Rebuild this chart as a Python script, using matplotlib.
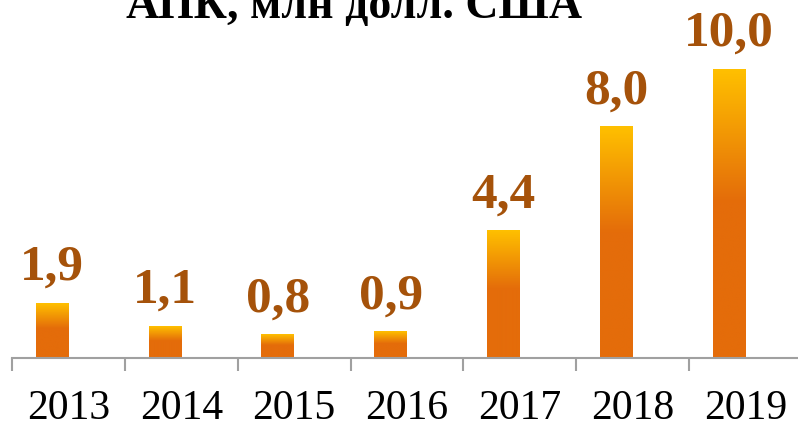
import matplotlib
matplotlib.use("Agg")
import matplotlib.pyplot as plt
import numpy as np
from matplotlib.colors import LinearSegmentedColormap

years = ["2013", "2014", "2015", "2016", "2017", "2018", "2019"]
values = [1.9, 1.1, 0.8, 0.9, 4.4, 8.0, 10.0]
labels = ["1,9", "1,1", "0,8", "0,9", "4,4", "8,0", "10,0"]
title = "АПК, млн долл. США"

W, H = 798, 425
fig = plt.figure(figsize=(W / 100, H / 100), dpi=100)
ax = fig.add_axes([12 / W, 1 - 358 / H, 790 / W, 358 / H])
ax.set_xlim(-0.5, 6.5)
ax.set_ylim(0, 358 / 28.9)

cmap = LinearSegmentedColormap.from_list(
    "g", [(0, "#E46C0A"), (0.54, "#E46C0A"), (1.0, "#FFC000")])
grad = np.linspace(0, 1, 256).reshape(-1, 1)
off, bw = -0.145, 0.29
x = np.arange(len(values))
for xi, v, lab in zip(x, values, labels):
    x0 = xi + off - bw / 2
    ax.imshow(grad, cmap=cmap, origin="lower", aspect="auto",
              extent=[x0, x0 + bw, 0, v], interpolation="bilinear", zorder=2)
    ax.annotate(lab, (xi + off, v), xytext=(0, 9), textcoords="offset points",
                ha="center", va="bottom", fontsize=37, fontweight="bold",
                family="Liberation Serif", color="#A5520A")

for s in ["top", "right", "left"]:
    ax.spines[s].set_visible(False)
ax.spines["bottom"].set_color("#A0A0A0")
ax.spines["bottom"].set_linewidth(1.5)
ax.set_yticks([])
ax.set_xticks(x)
ax.set_xticklabels(years, family="Liberation Serif", fontsize=30)
ax.tick_params(axis="x", which="major", length=0, pad=23)
ax.set_xticks(np.arange(-0.5, 7.0, 1.0), minor=True)
ax.tick_params(axis="x", which="minor", length=9, width=1.5, color="#A0A0A0")

fig.text(354 / W, 1 - 18 / H, title, ha="center", va="baseline",
         fontsize=33, fontweight="bold", family="Liberation Serif", color="black")

fig.savefig("out.png", dpi=100)
